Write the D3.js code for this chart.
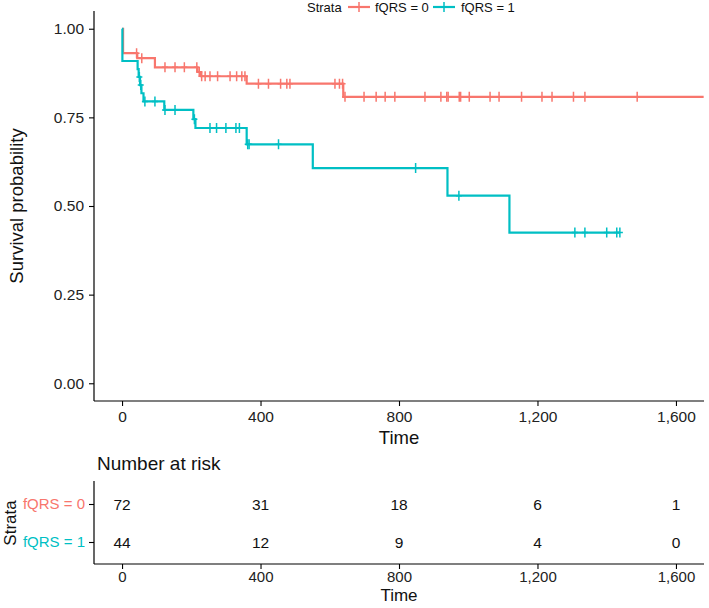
<!DOCTYPE html>
<html>
<head>
<meta charset="utf-8">
<script src="https://cdn.jsdelivr.net/npm/d3@7"></script>
<style>
  html, body { margin: 0; padding: 0; background: #fff; }
  svg { display: block; font-family: "Liberation Sans", Arial, sans-serif; }
</style>
</head>
<body>
<svg id="chart" width="709" height="608"></svg>
<script>
// ---------------- data ----------------
const strata = ["fQRS = 0", "fQRS = 1"];

// Kaplan-Meier step curve, fQRS = 0
const time0 = [0, 3, 44, 95, 218, 228, 360, 639, 1680];
const surv0 = [1, 0.931, 0.917, 0.891, 0.878, 0.866, 0.845, 0.808, 0.808];
const censor0 = [42, 57, 124, 153, 180, 216, 223, 230, 240, 254, 276, 312, 331, 346, 355, 394, 423, 458, 476, 485,
                 615, 628, 637, 644, 699, 734, 760, 788, 875, 921, 938, 942, 974, 978, 1003, 1063, 1089, 1154, 1213,
                 1242, 1304, 1337, 1488];

// Kaplan-Meier step curve, fQRS = 1
const time1 = [0, 1, 45, 48, 52, 56, 62, 122, 206, 212, 360, 551, 940, 1119, 1438];
const surv1 = [1, 0.909, 0.886, 0.864, 0.841, 0.818, 0.795, 0.771, 0.745, 0.720, 0.674, 0.607, 0.529, 0.425, 0.425];
const censor1 = [50, 54, 66, 95, 124, 153, 209, 254, 273, 300, 329, 339, 363, 367, 452, 848, 973, 1308, 1337, 1400, 1429, 1438];

// axis ticks
const xTicks = [0, 400, 800, 1200, 1600];
const yTicks = [0, 0.25, 0.5, 0.75, 1];

// number at risk table
const riskTimes = [0, 400, 800, 1200, 1600];
const risk0 = [72, 31, 18, 6, 1];
const risk1 = [44, 12, 9, 4, 0];

// ---------------- styling ----------------
const colors = ["#F8766D", "#00BFC4"];
const FONT = "'Liberation Sans', Arial, sans-serif";
const svg = d3.select("#chart");

const x = d3.scaleLinear().domain([-81, 1681]).range([94, 704]);
const y = d3.scaleLinear().domain([-0.05, 1.05]).range([401, 11]);

function survAt(times, surv, t) {
  let v = surv[0];
  for (let i = 0; i < times.length; i++) if (times[i] <= t) v = surv[i];
  return v;
}

function styleAxis(g, fs) {
  g.select(".domain").attr("stroke", "#000").attr("stroke-width", 1.2);
  g.selectAll(".tick line").attr("stroke", "#000").attr("stroke-width", 1.1);
  g.selectAll(".tick text").attr("fill", "#222").style("font-size", fs || "15.5px").style("font-family", FONT);
}

// ---------- main plot axes ----------
const gx = svg.append("g").attr("transform", "translate(0,401)")
  .call(d3.axisBottom(x).tickValues(xTicks).tickFormat(d3.format(",")).tickSize(5).tickPadding(5).tickSizeOuter(0));
const gy = svg.append("g").attr("transform", "translate(94,0)")
  .call(d3.axisLeft(y).tickValues(yTicks).tickFormat(d3.format(".2f")).tickSize(5).tickPadding(5).tickSizeOuter(0));
styleAxis(gx); styleAxis(gy);
gy.select(".domain").attr("d", "M0,11V401");
gx.select(".domain").attr("d", "M94,0H704");

svg.append("text").attr("x", 399).attr("y", 444).attr("text-anchor", "middle")
  .style("font-size", "18.5px").attr("fill", "#111").text("Time");
svg.append("text").attr("transform", "translate(23,206) rotate(-90)").attr("text-anchor", "middle")
  .style("font-size", "18.5px").attr("fill", "#111").text("Survival probability");

// ---------- curves ----------
const line = d3.line().curve(d3.curveStepAfter).x(d => x(d[0])).y(d => y(d[1]));
const curves = [
  {times: time0, surv: surv0, censor: censor0},
  {times: time1, surv: surv1, censor: censor1}
];
curves.forEach((c, i) => {
  const pts = c.times.map((t, j) => [t, c.surv[j]]);
  svg.append("path").datum(pts).attr("d", line)
    .attr("fill", "none").attr("stroke", colors[i]).attr("stroke-width", 2.2);
  const g = svg.append("g").attr("stroke", colors[i]).attr("stroke-width", 1.5);
  c.censor.forEach(t => {
    const cx = x(t), cy = y(survAt(c.times, c.surv, t));
    g.append("path").attr("d", `M${cx},${cy - 5}V${cy + 5}M${cx - 3},${cy}H${cx + 3}`);
  });
});

// ---------- legend ----------
const lg = svg.append("g").style("font-size", "13px");
lg.append("text").attr("x", 307).attr("y", 11.5).attr("fill", "#111").text("Strata");
const legItems = [{kx: 348, tx: 375}, {kx: 433, tx: 461}];
legItems.forEach((it, i) => {
  lg.append("path").attr("d", `M${it.kx},7H${it.kx + 22}`).attr("stroke", colors[i]).attr("stroke-width", 2.2);
  const cx = it.kx + 11;
  lg.append("path").attr("d", `M${cx},2V12M${cx - 3},7H${cx + 3}`).attr("stroke", colors[i]).attr("stroke-width", 1.5);
  lg.append("text").attr("x", it.tx).attr("y", 11.5).attr("fill", "#111").text(strata[i]);
});

// ---------- risk table ----------
svg.append("text").attr("x", 97).attr("y", 470).style("font-size", "19px").attr("fill", "#111").text("Number at risk");

const yr = d3.scalePoint().domain(strata).range([504, 542]);
const tx = svg.append("g").attr("transform", "translate(0,564)")
  .call(d3.axisBottom(x).tickValues(xTicks).tickFormat(d3.format(",")).tickSize(5).tickPadding(2).tickSizeOuter(0));
styleAxis(tx, "15px");
tx.select(".domain").attr("d", "M94,0H704");

const ty = svg.append("g").attr("transform", "translate(94,0)")
  .call(d3.axisLeft(yr).tickSize(5).tickPadding(4).tickSizeOuter(0));
styleAxis(ty, "15px");
ty.select(".domain").attr("d", "M0,481V564");
ty.selectAll(".tick text").attr("fill", (d, i) => colors[i]);

svg.append("text").attr("x", 399).attr("y", 601).attr("text-anchor", "middle")
  .style("font-size", "17px").attr("fill", "#111").text("Time");
svg.append("text").attr("transform", "translate(16,523) rotate(-90)").attr("text-anchor", "middle")
  .style("font-size", "17px").attr("fill", "#111").text("Strata");

[risk0, risk1].forEach((arr, i) => {
  svg.append("g").selectAll("text").data(arr).join("text")
    .attr("x", (d, j) => x(riskTimes[j])).attr("y", yr(strata[i]) + 5.5)
    .attr("text-anchor", "middle").style("font-size", "15.5px").attr("fill", "#111")
    .text(d => d);
});
</script>
</body>
</html>
